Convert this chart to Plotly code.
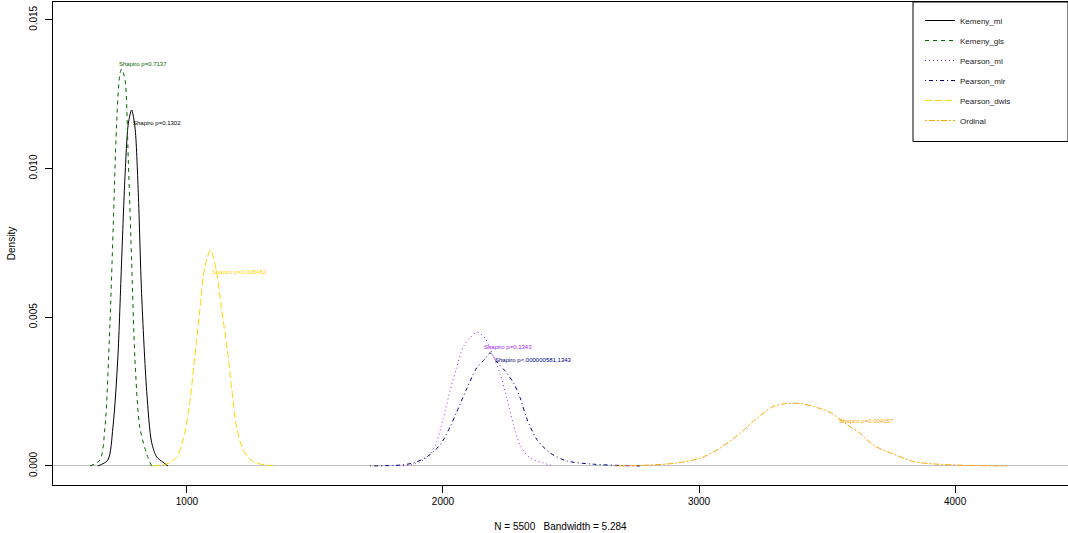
import plotly.graph_objects as go

# ---- data (density curves) ----
kemeny_ml_x = [652, 691, 711, 730, 745, 758, 771, 784, 797, 810, 823, 843, 862, 882, 906, 926]
kemeny_ml_y = [0, 0.0002, 0.0013, 0.0036, 0.0069, 0.0097, 0.0115, 0.01197, 0.0114, 0.0092,
               0.0058, 0.0025, 0.0008, 0.0003, 0.00013, 0]

kemeny_gls_x = [621, 660, 680, 699, 712, 725, 737, 745, 758, 771, 784, 797, 816, 843, 862]
kemeny_gls_y = [0, 0.0002, 0.0013, 0.0047, 0.0080, 0.0114, 0.0131, 0.01335, 0.0130, 0.0103,
                0.0069, 0.0036, 0.0013, 0.0004, 0]

pearson_ml_x = [1844, 1910, 1949, 1975, 2001, 2027, 2053, 2079, 2105, 2134, 2164, 2196, 2223,
                2249, 2275, 2301, 2340, 2392, 2430]
pearson_ml_y = [0, 0.00013, 0.0004, 0.0008, 0.0016, 0.0025, 0.0033, 0.0040, 0.0043, 0.0045,
                0.0043, 0.0037, 0.0031, 0.0023, 0.0014, 0.0007, 0.00027, 0.0001, 0]

pearson_mlr_x = [1715, 1832, 1884, 1936, 1988, 2027, 2053, 2093, 2132, 2164, 2184, 2210, 2242,
                 2275, 2301, 2327, 2366, 2418, 2483, 2587, 2717, 2770]
pearson_mlr_y = [0, 0.00003, 0.0001, 0.0003, 0.0007, 0.0013, 0.0018, 0.0026, 0.0033, 0.0036,
                 0.0038, 0.0035, 0.0032, 0.0028, 0.0023, 0.0016, 0.0009, 0.00044, 0.00017,
                 0.00006, 0.00001, 0]

pearson_dwls_x = [867, 921, 960, 986, 1012, 1031, 1051, 1070, 1093, 1116, 1135, 1155, 1175,
                  1194, 1220, 1259, 1336]
pearson_dwls_y = [0, 0.00007, 0.0003, 0.0009, 0.0022, 0.0037, 0.0053, 0.0067, 0.00726, 0.0065,
                  0.0053, 0.0041, 0.0026, 0.0013, 0.00054, 0.00014, 0]

ordinal_x = [2672, 2809, 2913, 3004, 3082, 3160, 3225, 3290, 3342, 3395, 3446, 3512, 3577,
             3629, 3681, 3759, 3837, 3915, 4045, 4202]
ordinal_y = [0, 0.00003, 0.0001, 0.00026, 0.0006, 0.0011, 0.0016, 0.0020, 0.0021, 0.0021,
             0.0020, 0.0018, 0.0014, 0.0011, 0.0007, 0.0004, 0.00015, 0.00007, 0.00002, 0]

series_names = ["Kemeny_ml", "Kemeny_gls", "Pearson_ml", "Pearson_mlr", "Pearson_dwls", "Ordinal"]
series_x = [kemeny_ml_x, kemeny_gls_x, pearson_ml_x, pearson_mlr_x, pearson_dwls_x, ordinal_x]
series_y = [kemeny_ml_y, kemeny_gls_y, pearson_ml_y, pearson_mlr_y, pearson_dwls_y, ordinal_y]

# Shapiro annotations: (label, x, y)
shapiro_labels = ["Shapiro p=0.1302", "Shapiro p=0.7137", "Shapiro p=0.1343",
                  "Shapiro p<.000000581.1343", "Shapiro p=0.008482", "Shapiro p=0.004057"]
shapiro_x = [780, 728, 2152, 2194, 1090, 3538]
shapiro_y = [0.01154, 0.01352, 0.00401, 0.00356, 0.00651, 0.00152]

x_ticks = [1000, 2000, 3000, 4000]
y_ticks = [0, 0.005, 0.010, 0.015]

# ---- styles ----
colors = ["#000000", "#006400", "#A020F0", "#000080", "#FFD700", "#FFA500"]
dashes = ["solid", "4px,4px", "1px,3px", "1px,3px,4px,3px", "7px,3px", "2px,2px,6px,2px"]
FONT = "Liberation Sans, Arial, Helvetica, sans-serif"

fig = go.Figure()
for i, name in enumerate(series_names):
    fig.add_trace(go.Scatter(
        x=series_x[i], y=series_y[i], mode="lines", name=name,
        legendgroup=name,
        line=dict(color=colors[i], width=1, dash=dashes[i], shape="spline", smoothing=0.8),
        hoverinfo="skip",
    ))

for i, lab in enumerate(shapiro_labels):
    fig.add_annotation(x=shapiro_x[i], y=shapiro_y[i], text=lab, showarrow=False,
                       xanchor="left", yanchor="middle",
                       font=dict(size=6, color=colors[i], family=FONT))

# legend frame (extends to the right edge like the reference)
fig.add_shape(type="rect", xref="paper", yref="paper",
              x0=(913 - 53) / 1015, x1=1.0, y0=(485 - 141.5) / 483, y1=1.0,
              line=dict(color="black", width=1), fillcolor="white", layer="below")

fig.update_layout(
    width=1068, height=533,
    margin=dict(l=53, r=0, t=2, b=48),
    paper_bgcolor="white", plot_bgcolor="white",
    font=dict(family=FONT, color="black", size=10),
    showlegend=True,
    legend=dict(x=(920 - 53) / 1015, y=1 - 4 / 483, xanchor="left", yanchor="top",
                borderwidth=0, bgcolor="rgba(0,0,0,0)",
                font=dict(size=8, family=FONT, color="#222"),
                tracegroupgap=1),
)
fig.update_xaxes(range=[477, 4441], tickvals=x_ticks, ticks="outside", ticklen=7,
                 tickcolor="black", showline=True, linecolor="black", linewidth=1,
                 mirror=True, showgrid=False, zeroline=False,
                 tickfont=dict(size=10, family=FONT),
                 title=dict(text="N = 5500   Bandwidth = 5.284", standoff=16,
                            font=dict(size=10, family=FONT)))
fig.update_yaxes(range=[-0.00064, 0.0156], tickvals=y_ticks, tickformat=".3f",
                 ticks="outside", ticklen=7, tickcolor="black", tickangle=-90,
                 showline=True, linecolor="black", linewidth=1, mirror=True,
                 showgrid=False, zeroline=True, zerolinecolor="#BEBEBE", zerolinewidth=1,
                 tickfont=dict(size=10, family=FONT), ticklabelstandoff=4,
                 title=dict(text="Density", standoff=10, font=dict(size=10, family=FONT)))

fig.write_html("out.html")
